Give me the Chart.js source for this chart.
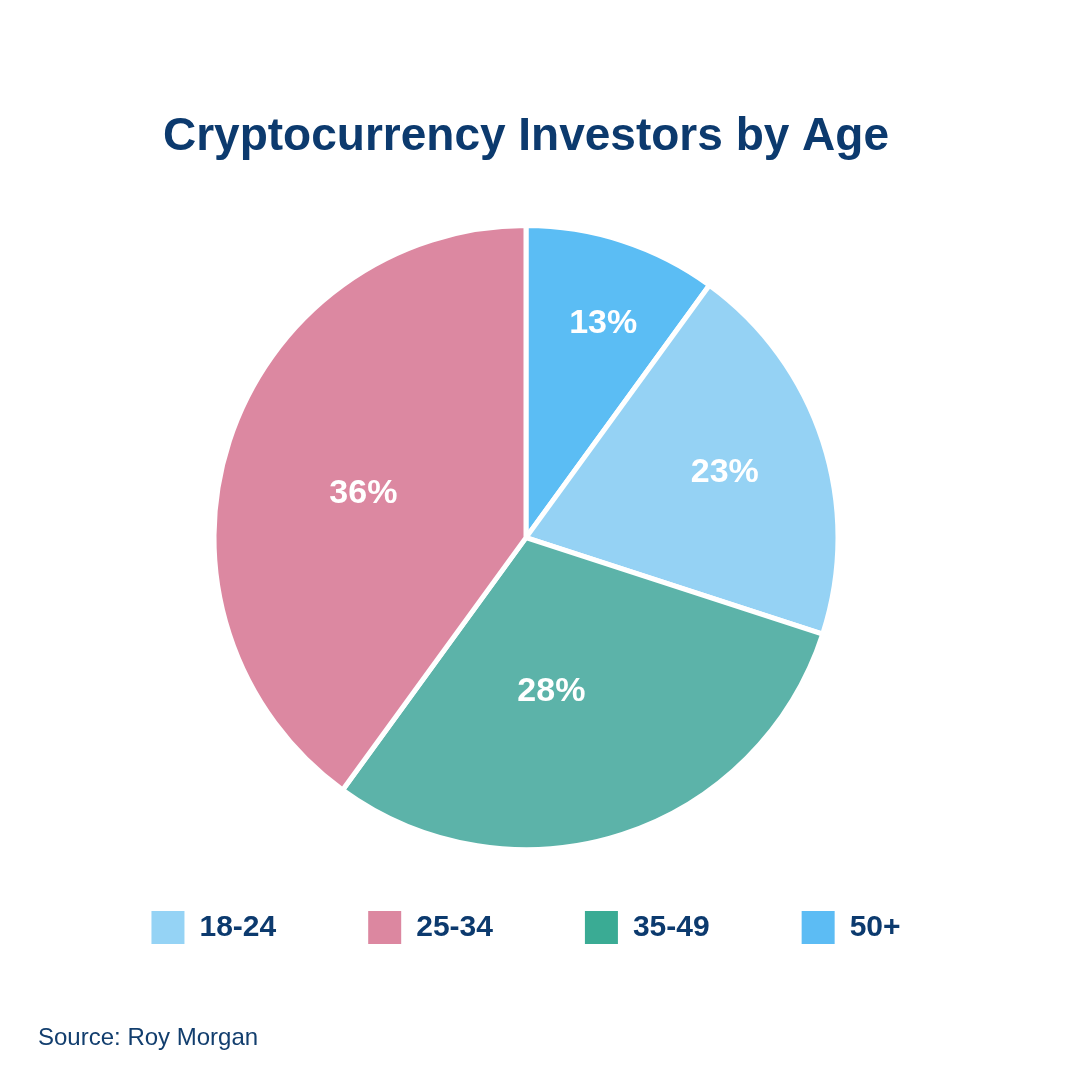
<!DOCTYPE html>
<html>
<head>
<meta charset="utf-8">
<script src="https://cdn.jsdelivr.net/npm/chart.js@4/dist/chart.umd.min.js"></script>
<style>
  html,body{margin:0;padding:0;background:#fff;}
  #wrap{position:relative;width:1080px;height:1080px;}
  #source{position:absolute;left:38px;top:1023px;font:24px 'Liberation Sans',Arial,sans-serif;color:#123e6e;line-height:28px;}
</style>
</head>
<body>
<div id="wrap">
  <canvas id="pieChart" width="1080" height="1080"></canvas>
  <div id="source">Source: Roy Morgan</div>
</div>
<script>
// slices in drawing order, clockwise from 12 o'clock
const ageGroups   = ['50+', '18-24', '35-49', '25-34'];
const sliceShares = [10, 20, 30, 40];            // arc sizes as drawn in the picture
const shareLabels = ['13%', '23%', '28%', '36%']; // text printed on the slices
const legendOrder = ['18-24', '25-34', '35-49', '50+'];

const sliceColors  = ['#5bbdf4', '#95d2f4', '#5cb3a9', '#dc88a1'];
const legendColors = {'18-24':'#95d3f5', '25-34':'#dc87a0', '35-49':'#3aab94', '50+':'#5cbcf4'};
// [position along the arc, fraction of radius] for each slice label
const labelAnchor = [[0.55,0.73],[0.5,0.67],[0.58,0.5],[0.48,0.54]];

const FONT = "'Liberation Sans', Arial, sans-serif";
const NAVY = '#0c3a6e';

const sliceLabels = {
  id:'sliceLabels',
  afterDatasetsDraw(chart){
    const ctx = chart.ctx;
    const arcs = chart.getDatasetMeta(0).data;
    ctx.save();
    ctx.fillStyle = '#fff';
    ctx.font = 'bold 34px ' + FONT;
    ctx.textAlign = 'center';
    ctx.textBaseline = 'middle';
    arcs.forEach((arc,i)=>{
      const p = arc.getProps(['x','y','startAngle','endAngle','outerRadius'], true);
      const a = p.startAngle + (p.endAngle - p.startAngle) * labelAnchor[i][0];
      const r = p.outerRadius * labelAnchor[i][1];
      ctx.fillText(shareLabels[i], p.x + Math.cos(a)*r, p.y + Math.sin(a)*r);
    });
    ctx.restore();
  }
};

function render(){
  const ctx = document.getElementById('pieChart').getContext('2d');
  new Chart(ctx, {
    type:'pie',
    data:{labels:ageGroups, datasets:[{
      data:sliceShares,
      backgroundColor:sliceColors,
      borderColor:'#fff',
      borderWidth:5,
      hoverOffset:0,
      radius:312,
      clip:false
    }]},
    options:{
      responsive:false,
      animation:false,
      layout:{padding:{left:0, right:28, top:0, bottom:126}},
      plugins:{
        tooltip:{enabled:false},
        title:{
          display:true,
          text:'Cryptocurrency Investors by Age',
          color:NAVY,
          font:{family:FONT, size:46, weight:'bold', lineHeight:1.2},
          padding:{top:110, bottom:91}
        },
        legend:{
          position:'bottom',
          labels:{
            boxWidth:33, boxHeight:33, padding:92,
            color:NAVY,
            font:{family:FONT, size:30, weight:'bold'},
            generateLabels(){
              return legendOrder.map(name=>({
                text:name,
                fillStyle:legendColors[name],
                strokeStyle:legendColors[name],
                lineWidth:0,
                fontColor:NAVY,
                index:ageGroups.indexOf(name)
              }));
            }
          }
        }
      }
    },
    plugins:[sliceLabels]
  });
}

window.addEventListener('DOMContentLoaded', render);
</script>
</body>
</html>
